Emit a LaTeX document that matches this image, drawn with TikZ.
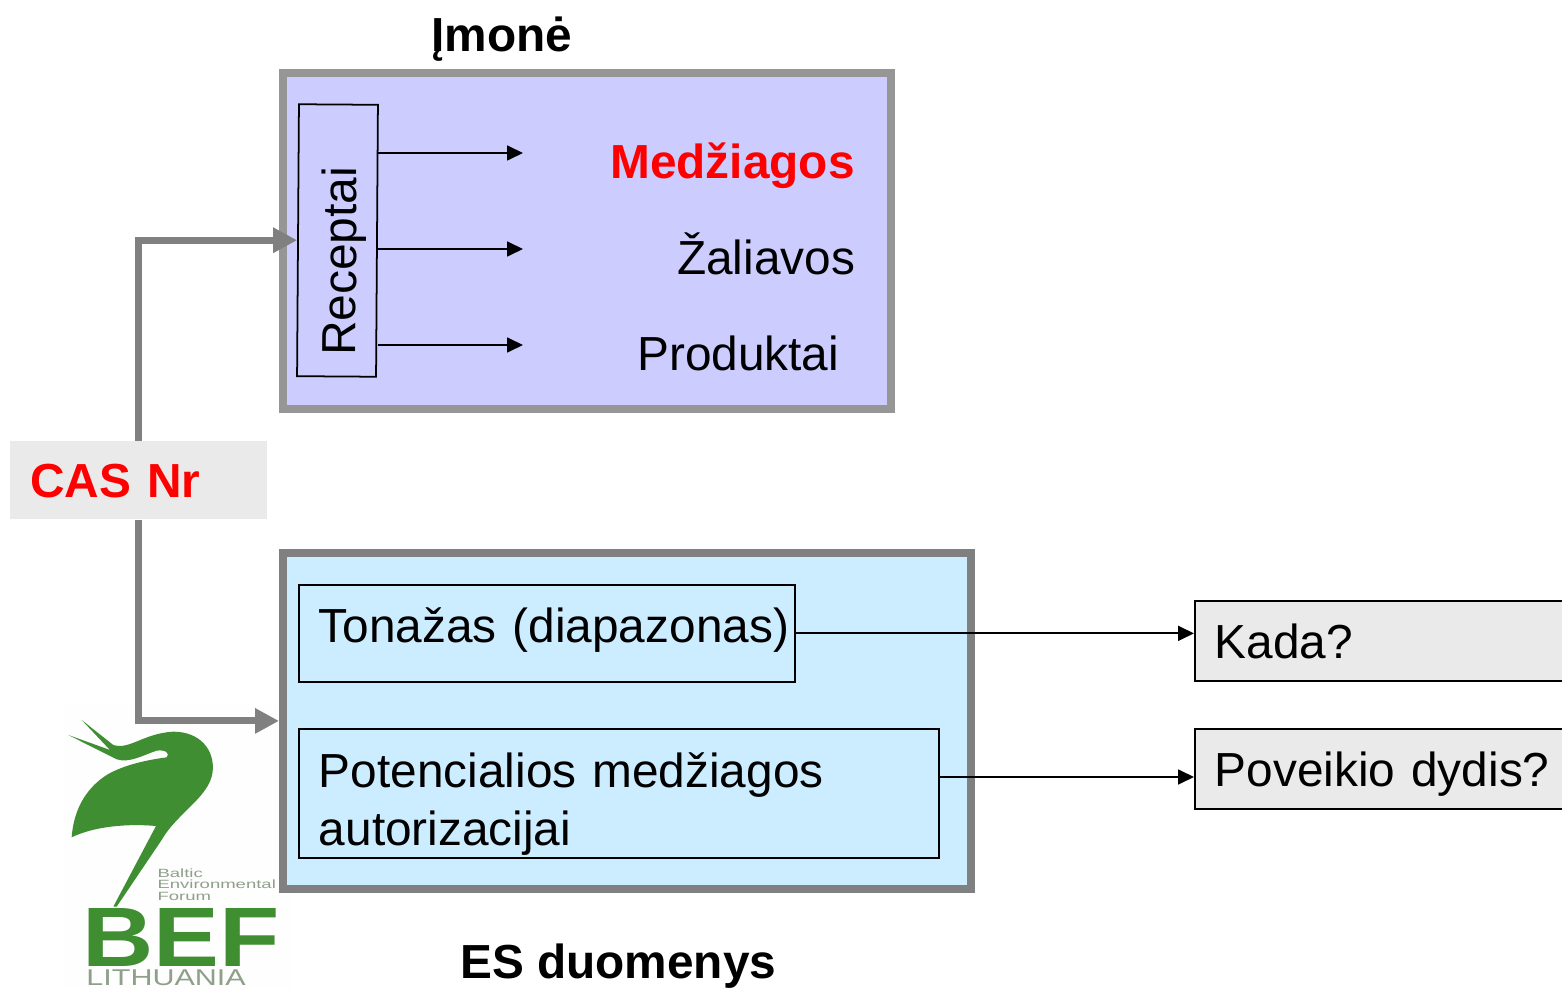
\documentclass[tikz,border=0pt]{standalone}
\usepackage{fontspec}
\setmainfont{Liberation Sans}
\usetikzlibrary{arrows.meta}
\definecolor{frameGray}{HTML}{969696}
\definecolor{frameDark}{HTML}{808080}
\definecolor{topFill}{HTML}{CCCCFF}
\definecolor{bottomFill}{HTML}{CCECFF}
\definecolor{noteGray}{HTML}{EAEAEA}
\definecolor{logoGreen}{HTML}{3F8F32}
\definecolor{logoGray}{HTML}{8FA08A}
\tikzset{
    bigText/.style={font=\fontsize{27.2}{32.9}\selectfont, inner sep=0pt},
    boldText/.style={font=\fontsize{27.2}{32.9}\selectfont\bfseries, inner sep=0pt},
    frameBox/.style={draw, line width=4.5pt, minimum height=6.72cm, anchor=north west},
    thinBox/.style={draw=black, line width=1pt, bigText, inner ysep=0pt, inner xsep=0.4cm, align=left, anchor=north west},
    thinArrow/.style={draw=black, line width=1pt, -{Triangle[length=0.32cm, width=0.3cm]}},
    casArrow/.style={draw=frameDark, line width=4pt, -{Triangle[length=0.48cm, width=0.48cm]}},
    logoSmall/.style={anchor=base west, inner sep=0pt, text=logoGray, xscale=1.55, font=\fontsize{6.8}{7}\selectfont}
}

\begin{document}
\begin{tikzpicture}[x=0.02cm, y=-0.02cm]
\clip (0,0) rectangle (1562,989);

% logo
\fill[white!99.5!black] (63,705) rectangle (292,989);
\begin{scope}[shift={(50,700)}, x=0.00667cm, y=-0.00667cm]
\fill[logoGreen] (95,60) -- (190,135) .. controls (240,150) and (280,100) .. (370,95) .. controls (450,95) and (495,150) .. (488,215) .. controls (480,290) and (380,340) .. (335,420) -- (200,620) -- (190,620) -- (318,378) .. controls (230,370) and (130,380) .. (65,412) .. controls (70,340) and (100,270) .. (170,225) .. controls (220,195) and (290,180) .. (350,172) .. controls (362,160) and (345,148) .. (320,152) .. controls (280,165) and (240,190) .. (200,178) -- (55,105) -- (180,150) -- cycle;
\end{scope}
\node[logoSmall] (logoBaltic) at (157,877) {Baltic};
\node[logoSmall] (logoEnvironmental) at (157,888) {Environmental};
\node[logoSmall] (logoForum) at (157,900) {Forum};
\node[anchor=base west, inner sep=0pt, text=logoGreen, xscale=1.17, font=\fontsize{48}{48}\selectfont\bfseries] (logoBef) at (82,966) {BEF};
\node[anchor=base west, inner sep=0pt, text=logoGray, xscale=1.335, font=\fontsize{13}{13}\selectfont] (logoLithuania) at (86,985.5) {LITHUANIA};

% company box
\node[frameBox, draw=frameGray, fill=topFill, minimum width=12.16cm] (topBox) at (279,69) {};
\node[boldText, anchor=base west] (imone) at (431,51.5) {Įmonė};
\node[draw=black, line width=1pt, bigText, rotate=89.6, minimum width=5.44cm, minimum height=1.58cm, inner xsep=0.46cm, text width=4.52cm, align=left, text height=0.76cm, text depth=0pt] (receptai) at (337.5,240.5) {\hspace*{-0.04cm}Receptai};
\node[boldText, text=red, anchor=base east] (medziagos) at (855,179) {Medžiagos};
\node[bigText, anchor=base east] (zaliavos) at (855.5,275) {Žaliavos};
\node[bigText, anchor=base east] (produktai) at (839.5,371) {Produktai};
\coordinate (medziagosTip) at (523,153);
\coordinate (zaliavosTip) at (523,249);
\coordinate (produktaiTip) at (523,345);
\draw[thinArrow] (medziagosTip -| receptai.south) -- (medziagosTip);
\draw[thinArrow] (zaliavosTip -| receptai.south) -- (zaliavosTip);
\draw[thinArrow] (produktaiTip -| receptai.south) -- (produktaiTip);

% EU data box
\node[frameBox, draw=frameDark, fill=bottomFill, minimum width=13.76cm] (bottomBox) at (279,549) {};
\node[boldText, anchor=base west] (esDuomenys) at (460,978) {ES duomenys};
\node[thinBox, minimum width=9.92cm, minimum height=1.94cm, text width=9.12cm, text depth=0.34cm] (tonazas) at (298,584) {\mbox{Tonažas (diapazonas)}};
\node[thinBox, minimum width=12.8cm, minimum height=2.58cm, text width=12cm, text height=0.68cm, text depth=0.9cm] (potencialios) at (298,728) {Potencialios medžiagos\\autorizacijai};
\node[thinBox, fill=noteGray, minimum width=7.5cm, minimum height=1.6cm, text width=6.7cm, text depth=0pt] (kada) at (1194,600) {Kada?};
\node[thinBox, fill=noteGray, minimum width=7.5cm, minimum height=1.6cm, text width=6.7cm, text depth=0pt] (poveikio) at (1194,728) {Poveikio dydis?};
\coordinate (potencialiosOut) at (938,777);
\draw[thinArrow] (tonazas.east) -- (tonazas.east -| kada.west);
\draw[thinArrow] (potencialiosOut) -- (potencialiosOut -| poveikio.west);

% CAS number
\node[fill=noteGray, boldText, text=red, anchor=north west, minimum width=5.14cm, minimum height=1.56cm, inner xsep=0.4cm, text width=4.34cm, align=left, text depth=0pt] (cas) at (10,441) {CAS Nr};
\draw[casArrow] (cas.north) |- (receptai.north);
\draw[casArrow] (cas.south) |- (bottomBox.west);
\end{tikzpicture}
\end{document}
